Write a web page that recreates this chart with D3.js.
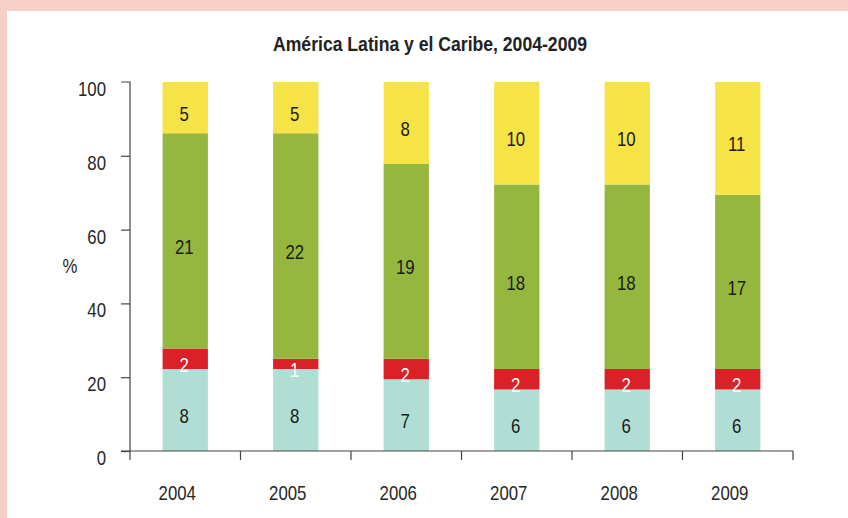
<!DOCTYPE html>
<html><head><meta charset="utf-8">
<script src="https://cdn.jsdelivr.net/npm/d3@7"></script>
<style>
html,body{margin:0;padding:0;background:#fff;}
svg{display:block;}
</style></head>
<body>
<svg id="c" width="848" height="518"></svg>
<script>
const years = ["2004","2005","2006","2007","2008","2009"];
const seriesNames = ["s1","s2","s3","s4"];
const s1 = [8, 8, 7, 6, 6, 6];      // teal (bottom)
const s2 = [2, 1, 2, 2, 2, 2];      // red
const s3 = [21, 22, 19, 18, 18, 17];// green
const s4 = [5, 5, 8, 10, 10, 11];   // yellow (top)
const yTicks = [0, 20, 40, 60, 80, 100];
const colors = ["#b0ded4", "#da2128", "#96b73e", "#f6e345"];
const labelColors = ["#1a1a1a", "#fff", "#1a1a1a", "#1a1a1a"];
const title = "América Latina y el Caribe, 2004-2009";

const FONT = "'Liberation Sans','Arial',sans-serif";
const NARROW = 0.8;
const FS = "21px";
const svg = d3.select("#c");

function narrow(sel, factor) {
  sel.each(function() {
    const w = this.getComputedTextLength();
    this.setAttribute("textLength", (w * factor).toFixed(2));
    this.setAttribute("lengthAdjust", "spacingAndGlyphs");
  });
}

// frame
svg.append("rect").attr("x",0).attr("y",0).attr("width",848).attr("height",11).attr("fill","#f6d0c4");
svg.append("rect").attr("x",0).attr("y",0).attr("width",7).attr("height",518).attr("fill","#f6d0c4");

const x = d3.scaleBand().domain(years).range([130, 793]).paddingInner(0.59).paddingOuter(0.295);
const y = d3.scaleLinear().domain([0, 100]).range([451, 82]);

const rows = years.map((yr, i) => {
  const vals = [s1[i], s2[i], s3[i], s4[i]];
  const tot = d3.sum(vals);
  const r = {year: yr};
  seriesNames.forEach((k, j) => r[k] = vals[j] / tot * 100);
  r.raw = vals;
  return r;
});
const stacked = d3.stack().keys(seriesNames)(rows);

const g = svg.append("g");
stacked.forEach((layer, j) => {
  g.selectAll(null).data(layer).enter().append("rect")
    .attr("x", d => x(d.data.year))
    .attr("width", x.bandwidth())
    .attr("y", d => y(d[1]))
    .attr("height", d => y(d[0]) - y(d[1]))
    .attr("fill", colors[j]);
});
stacked.forEach((layer, j) => {
  const t = g.selectAll(null).data(layer).enter().append("text")
    .attr("x", d => x(d.data.year) + x.bandwidth()/2 - 1)
    .attr("y", d => (y(d[0]) + y(d[1]))/2 + 13)
    .attr("text-anchor","middle")
    .attr("font-family", FONT)
    .attr("font-size", FS)
    .attr("fill", labelColors[j])
    .text(d => d.data.raw[j]);
  narrow(t, NARROW);
});

// y axis
const yAxis = d3.axisLeft(y).tickValues(yTicks).tickSize(9).tickPadding(15);
const ya = svg.append("g").attr("transform","translate(130,0)").call(yAxis);
ya.select(".domain").attr("d", "M-9,82H0V451").attr("stroke","#444").attr("stroke-width",1.2).attr("fill","none");
ya.selectAll(".tick line").attr("stroke","#444").attr("stroke-width",1.2);
ya.selectAll(".tick").filter(d => d === 100).select("line").remove();
const yt = ya.selectAll("text").attr("font-family", FONT).attr("font-size",FS).attr("fill","#262626")
  .attr("dy", null).attr("y", 13.5);
narrow(yt, NARROW);

// x axis (ticks at category boundaries)
const step = x.step();
const bounds = years.map(yr => x(yr) - (step - x.bandwidth())/2).concat([793]);
svg.append("line").attr("x1",121).attr("x2",793).attr("y1",451).attr("y2",451)
  .attr("stroke","#444").attr("stroke-width",1.2);
svg.selectAll(null).data(bounds).enter().append("line")
  .attr("x1", d => d).attr("x2", d => d).attr("y1",451).attr("y2",460)
  .attr("stroke","#444").attr("stroke-width",1.2);
const xt = svg.selectAll(null).data(years).enter().append("text")
  .attr("x", d => x(d) + x.bandwidth()/2 - 8)
  .attr("y", 500)
  .attr("text-anchor","middle")
  .attr("font-family", FONT).attr("font-size",FS).attr("fill","#262626")
  .text(d => d);
narrow(xt, NARROW);

// y label
const yl = svg.append("text").attr("x",70).attr("y",273).attr("text-anchor","middle")
  .attr("font-family", FONT).attr("font-size",FS).attr("fill","#262626").text("%");
narrow(yl, NARROW);

// title
svg.append("text").attr("x",430).attr("y",51).attr("text-anchor","middle")
  .attr("font-family", FONT).attr("font-weight","bold").attr("font-size","19.5px").attr("fill","#222")
  .attr("textLength", 314).attr("lengthAdjust","spacingAndGlyphs")
  .text(title);
</script>
</body></html>
